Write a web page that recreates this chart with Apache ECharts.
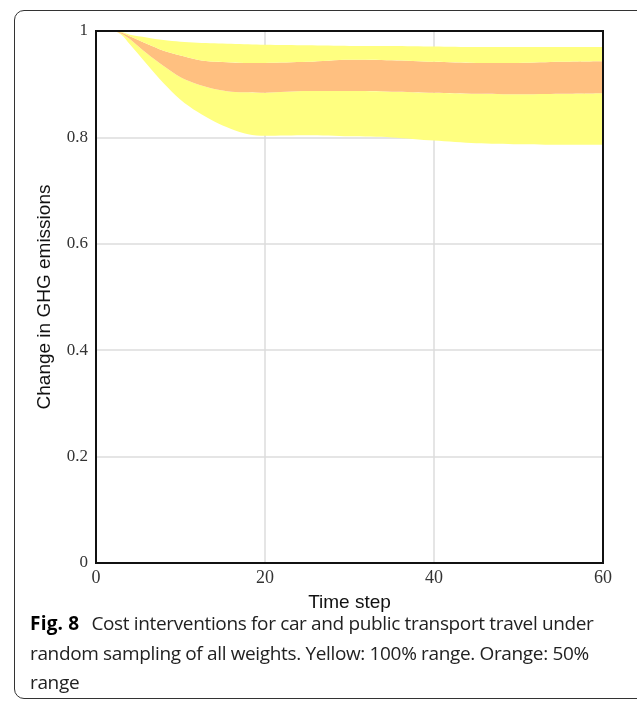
<!DOCTYPE html>
<html>
<head>
<meta charset="utf-8">
<script src="https://cdn.jsdelivr.net/npm/echarts@6/dist/echarts.min.js"></script>
<style>
  body { margin: 0; background: #fff; }
  #frame {
    position: absolute; left: 14px; top: 10px; width: 640px; height: 689px;
    border: 1px solid #333; border-radius: 10px; box-sizing: border-box;
  }
  #chart { position: absolute; left: 0; top: 0; width: 637px; height: 620px; }
  #caption {
    position: absolute; left: 30px; top: 609px; width: 600px;
    font-family: "Open Sans", sans-serif; font-size: 19px; line-height: 29.5px;
    color: #222; white-space: nowrap; letter-spacing: -0.35px;
  }
  #caption b { color: #000; letter-spacing: 0.2px; margin-right: 12px; }
</style>
</head>
<body>
<div id="frame"></div>
<div id="chart"></div>
<div id="caption"><b>Fig. 8</b>Cost interventions for car and public transport travel under<br>random sampling of all weights. Yellow: 100% range. Orange: 50%<br>range</div>
<script>
// time steps and band edges
const steps = [0, 1, 2, 3, 4, 6, 8, 10, 12, 14, 16, 18, 20, 25, 30, 35, 40, 45, 50, 55, 60]
const yellowLow = [1, 1, 1, 0.993, 0.975, 0.938, 0.902, 0.871, 0.848, 0.830, 0.816, 0.806, 0.803, 0.804, 0.802, 0.800, 0.794, 0.789, 0.787, 0.786, 0.786]
const orangeLow = [1, 1, 1, 0.995, 0.985, 0.958, 0.934, 0.913, 0.900, 0.891, 0.886, 0.885, 0.884, 0.887, 0.887, 0.886, 0.884, 0.882, 0.881, 0.882, 0.883]
const orangeHigh = [1, 1, 1, 0.997, 0.990, 0.976, 0.963, 0.954, 0.946, 0.942, 0.941, 0.940, 0.940, 0.942, 0.946, 0.945, 0.942, 0.940, 0.940, 0.942, 0.943]
const yellowHigh = [1, 1, 1, 0.998, 0.993, 0.988, 0.983, 0.980, 0.978, 0.977, 0.976, 0.975, 0.974, 0.973, 0.972, 0.972, 0.971, 0.970, 0.970, 0.970, 0.970]
const xTicks = [0, 20, 40, 60]
const yTicks = [0, 0.2, 0.4, 0.6, 0.8, 1]

const YELLOW = '#ffff80'
const ORANGE = '#ffc080'

// value first so the stack runs on y, not on the time step
function rows (arr, base) {
  return steps.map((t, i) => [base ? +(arr[i] - base[i]).toFixed(4) : arr[i], t])
}

function band (name, data, color) {
  let s = {
    name: name,
    type: 'line',
    stack: 'range',
    data: data,
    encode: { x: 1, y: 0 },
    symbol: 'none',
    smooth: 0.3,
    lineStyle: { width: 0 },
    silent: true
  }
  if (color) s.areaStyle = { color: color, opacity: 1 }
  return s
}

let myChart = echarts.init(document.getElementById('chart'))
myChart.setOption({
  animation: false,
  grid: {
    left: 96, top: 31, right: 34, bottom: 57,
    outerBoundsMode: 'none',
    containLabel: false,
    show: true, borderColor: '#111', borderWidth: 2, z: 5
  },
  xAxis: {
    type: 'value',
    min: xTicks[0],
    max: xTicks[xTicks.length - 1],
    interval: 20,
    name: 'Time step',
    nameLocation: 'middle',
    nameGap: 30,
    nameTextStyle: { fontFamily: 'Liberation Sans', fontSize: 19, color: '#111' },
    axisLine: { show: false },
    axisTick: { show: false },
    axisLabel: { fontFamily: 'Liberation Serif', fontSize: 18, color: '#333', margin: 6 },
    splitLine: { show: true, lineStyle: { color: '#dcdcdc', width: 1.5 } }
  },
  yAxis: {
    type: 'value',
    min: yTicks[0],
    max: yTicks[yTicks.length - 1],
    interval: 0.2,
    name: 'Change in GHG emissions',
    nameLocation: 'middle',
    nameGap: 42,
    nameTextStyle: { fontFamily: 'Liberation Sans', fontSize: 19, color: '#111' },
    axisLine: { show: false },
    axisTick: { show: false },
    axisLabel: { fontFamily: 'Liberation Serif', fontSize: 17, color: '#333', margin: 8 },
    splitLine: { show: true, lineStyle: { color: '#dcdcdc', width: 1.5 } }
  },
  series: [
    band('base', rows(yellowLow), null),
    band('yellow low', rows(orangeLow, yellowLow), YELLOW),
    band('orange', rows(orangeHigh, orangeLow), ORANGE),
    band('yellow high', rows(yellowHigh, orangeHigh), YELLOW)
  ]
})
</script>
</body>
</html>
